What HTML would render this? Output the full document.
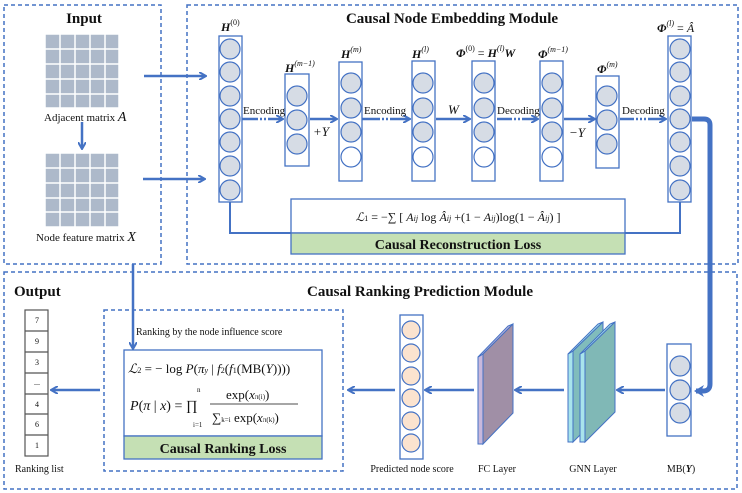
<!DOCTYPE html>
<html><head><meta charset="utf-8"><style>
body{margin:0;background:#fff}
svg{display:block}
text{font-family:"Liberation Serif",serif;fill:#111}
.b{font-weight:bold}
.i{font-style:italic}
</style></head><body>
<svg width="742" height="493" viewBox="0 0 742 493" xmlns="http://www.w3.org/2000/svg">
<defs>
<marker id="ah" markerWidth="8" markerHeight="8" refX="6" refY="4" orient="auto" markerUnits="userSpaceOnUse"><path d="M0,0 L7,4 L0,8" fill="none" stroke="#4472c4" stroke-width="2"/></marker>
<marker id="ah2" markerWidth="12" markerHeight="12" refX="8" refY="6" orient="auto" markerUnits="userSpaceOnUse"><path d="M0,0 L10,6 L0,12 L3,6 Z" fill="#4472c4"/></marker>
</defs>
<g fill="none" stroke="#4472c4" stroke-width="1.5" stroke-dasharray="4,3">
<rect x="4" y="5" width="157" height="259"/>
<rect x="187" y="5" width="551" height="259"/>
<rect x="4" y="272" width="733" height="217"/>
<rect x="104" y="310" width="239" height="161"/>
</g>
<text x="84" y="23" class="b" font-size="15" text-anchor="middle">Input</text>
<text x="452" y="23" class="b" font-size="15" text-anchor="middle">Causal Node Embedding Module</text>
<text x="14" y="296" class="b" font-size="15">Output</text>
<text x="420" y="296" class="b" font-size="15" text-anchor="middle">Causal Ranking Prediction Module</text>
<!-- matrices -->
<g fill="#adb9ca" stroke="#fff" stroke-width="1.5">
<rect x="45" y="34" width="74" height="74"/>
<rect x="45" y="153" width="74" height="74"/>
</g>
<g stroke="#fff" stroke-width="1.5">
<path d="M60,34V108M75,34V108M90,34V108M105,34V108M45,49H119M45,64H119M45,79H119M45,94H119"/>
<path d="M60,153V227M75,153V227M90,153V227M105,153V227M45,168H119M45,183H119M45,198H119M45,212H119"/>
</g>
<text x="44" y="121" font-size="11">Adjacent matrix <tspan class="i" font-size="14">A</tspan></text>
<text x="36" y="241" font-size="11">Node feature matrix <tspan class="i" font-size="14">X</tspan></text>
<g stroke="#4472c4" stroke-width="2.5" fill="none" marker-end="url(#ah)">
<path d="M82,122V148"/>
<path d="M144,76H205"/>
<path d="M143,179H204"/>
<path d="M242,119H282"/>
<path d="M310,119H336"/>
<path d="M362,119H409"/>
<path d="M436,119H469"/>
<path d="M497,119H537"/>
<path d="M564,119H594"/>
<path d="M620,119H665"/>
<path d="M133,264V348"/>
<path d="M100,390H52"/>
<path d="M395,390H349"/>
<path d="M474,390H426"/>
<path d="M564,390H516"/>
<path d="M665,390H618"/>
</g>
<g stroke="#fff" stroke-width="3" stroke-dasharray="2,2">
<path d="M258,119H270M380,119H392M512,119H524M634,119H648"/>
</g>
<path d="M692,119H704Q710,119 710,125V384Q710,391 703,391H696" stroke="#4472c4" stroke-width="5" fill="none" marker-end="url(#ah2)"/>
<path d="M230,202V233H291M680,202V233H625" stroke="#4472c4" stroke-width="2" fill="none"/>
<!-- columns -->
<g fill="#fff" stroke="#4472c4" stroke-width="1.3">
<rect x="219" y="36" width="23" height="166"/>
<rect x="285" y="74" width="24" height="92"/>
<rect x="339" y="62" width="23" height="119"/>
<rect x="412" y="61" width="23" height="120"/>
<rect x="472" y="61" width="23" height="120"/>
<rect x="540" y="61" width="23" height="120"/>
<rect x="596" y="76" width="23" height="92"/>
<rect x="668" y="36" width="23" height="166"/>
<rect x="667" y="344" width="24" height="92"/>
<rect x="400" y="315" width="23" height="144"/>
</g>
<g fill="#d6dce5" stroke="#4472c4" stroke-width="1.2">
<circle cx="230" cy="49" r="10"/><circle cx="230" cy="72" r="10"/><circle cx="230" cy="96" r="10"/><circle cx="230" cy="119" r="10"/><circle cx="230" cy="142" r="10"/><circle cx="230" cy="166" r="10"/><circle cx="230" cy="190" r="10"/>
<circle cx="680" cy="49" r="10"/><circle cx="680" cy="72" r="10"/><circle cx="680" cy="96" r="10"/><circle cx="680" cy="119" r="10"/><circle cx="680" cy="142" r="10"/><circle cx="680" cy="166" r="10"/><circle cx="680" cy="190" r="10"/>
<circle cx="297" cy="96" r="10"/><circle cx="297" cy="120" r="10"/><circle cx="297" cy="144" r="10"/>
<circle cx="607" cy="96" r="10"/><circle cx="607" cy="120" r="10"/><circle cx="607" cy="144" r="10"/>
<circle cx="680" cy="366" r="10"/><circle cx="680" cy="390" r="10"/><circle cx="680" cy="413" r="10"/>
<circle cx="351" cy="83" r="10"/><circle cx="351" cy="108" r="10"/><circle cx="351" cy="132" r="10"/>
<circle cx="423" cy="83" r="10"/><circle cx="423" cy="108" r="10"/><circle cx="423" cy="132" r="10"/>
<circle cx="484" cy="83" r="10"/><circle cx="484" cy="108" r="10"/><circle cx="484" cy="132" r="10"/>
<circle cx="552" cy="83" r="10"/><circle cx="552" cy="108" r="10"/><circle cx="552" cy="132" r="10"/>
</g>
<g fill="#fff" stroke="#4472c4" stroke-width="1.2">
<circle cx="351" cy="157" r="10"/><circle cx="423" cy="157" r="10"/><circle cx="484" cy="157" r="10"/><circle cx="552" cy="157" r="10"/>
</g>
<g fill="#fbe3cf" stroke="#4472c4" stroke-width="1.2">
<circle cx="411" cy="330" r="9"/><circle cx="411" cy="353" r="9"/><circle cx="411" cy="376" r="9"/><circle cx="411" cy="398" r="9"/><circle cx="411" cy="421" r="9"/><circle cx="411" cy="443" r="9"/>
</g>
<!-- labels -->
<g font-size="12">
<text x="221" y="31" class="b i">H<tspan font-size="8" dy="-6" font-weight="normal" font-style="normal">(0)</tspan></text>
<text x="285" y="72" class="b i">H<tspan font-size="8" dy="-6" font-weight="normal">(m−1)</tspan></text>
<text x="341" y="58" class="b i">H<tspan font-size="8" dy="-6" font-weight="normal">(m)</tspan></text>
<text x="412" y="58" class="b i">H<tspan font-size="8" dy="-6" font-weight="normal">(l)</tspan></text>
<text x="456" y="57" class="b i">Φ<tspan font-size="8" dy="-6" font-weight="normal" font-style="normal">(0)</tspan><tspan dy="6" font-weight="normal" font-style="normal"> = </tspan>H<tspan font-size="8" dy="-6" font-weight="normal">(l)</tspan><tspan dy="6">W</tspan></text>
<text x="538" y="58" class="b i">Φ<tspan font-size="8" dy="-6" font-weight="normal">(m−1)</tspan></text>
<text x="597" y="73" class="b i">Φ<tspan font-size="8" dy="-6" font-weight="normal">(m)</tspan></text>
<text x="657" y="32" class="b i">Φ<tspan font-size="8" dy="-6" font-weight="normal">(l)</tspan><tspan dy="6" font-weight="normal" font-style="normal"> = </tspan><tspan font-weight="normal">Â</tspan></text>
</g>
<g font-size="11">
<text x="243" y="114">Encoding</text>
<text x="364" y="114">Encoding</text>
<text x="497" y="114">Decoding</text>
<text x="622" y="114">Decoding</text>
</g>
<text x="313" y="136" font-size="13" class="i">+Y</text>
<text x="448" y="114" font-size="13" class="i">W</text>
<text x="569" y="137" font-size="13" class="i">−Y</text>
<!-- loss 1 -->
<rect x="291" y="199" width="334" height="34" fill="#fff" stroke="#4472c4" stroke-width="1.3"/>
<rect x="291" y="233" width="334" height="21" fill="#c5e0b4" stroke="#4472c4" stroke-width="1.3"/>
<text x="458" y="221" font-size="12" text-anchor="middle"><tspan class="i">ℒ</tspan><tspan font-size="8">1</tspan> = −∑ [ <tspan class="i">A<tspan font-size="8">ij</tspan></tspan> log <tspan class="i">Â<tspan font-size="8">ij</tspan></tspan> +(1 − <tspan class="i">A<tspan font-size="8">ij</tspan></tspan>)log(1 − <tspan class="i">Â<tspan font-size="8">ij</tspan></tspan>) ]</text>
<text x="458" y="249" font-size="14" class="b" text-anchor="middle">Causal Reconstruction Loss</text>
<!-- ranking list -->
<g fill="#fff" stroke="#555" stroke-width="1.2">
<rect x="25" y="310" width="23" height="146"/>
<path d="M25,331H48M25,352H48M25,373H48M25,394H48M25,414H48M25,435H48"/>
</g>
<g font-size="8" text-anchor="middle">
<text x="37" y="323">7</text><text x="37" y="344">9</text><text x="37" y="365">3</text><text x="37" y="385">...</text><text x="37" y="407">4</text><text x="37" y="427">6</text><text x="37" y="448">1</text>
</g>
<text x="15" y="472" font-size="10">Ranking list</text>
<text x="136" y="335" font-size="10">Ranking by the node influence score</text>
<rect x="124" y="350" width="198" height="86" fill="#fff" stroke="#4472c4" stroke-width="1.3"/>
<rect x="124" y="436" width="198" height="23" fill="#c5e0b4" stroke="#4472c4" stroke-width="1.3"/>
<text x="128" y="373" font-size="13"><tspan class="i">ℒ</tspan><tspan font-size="8">2</tspan> = − log <tspan class="i">P</tspan>(<tspan class="i">π<tspan font-size="8">y</tspan></tspan> | <tspan class="i">f</tspan><tspan font-size="8">2</tspan>(<tspan class="i">f</tspan><tspan font-size="8">1</tspan>(MB(<tspan class="i">Y</tspan>))))</text>
<text x="130" y="410" font-size="14"><tspan class="i">P</tspan>(<tspan class="i">π</tspan> | <tspan class="i">x</tspan>) = ∏</text>
<text x="193" y="427" font-size="7">i=1</text><text x="197" y="392" font-size="7">n</text>
<line x1="210" y1="404" x2="298" y2="404" stroke="#111" stroke-width="0.8"/>
<text x="226" y="399" font-size="13">exp(<tspan class="i">x</tspan><tspan font-size="7">π(i)</tspan>)</text>
<text x="212" y="422" font-size="13">∑<tspan font-size="7">k=i</tspan> exp(<tspan class="i">x</tspan><tspan font-size="7">π(k)</tspan>)</text>
<text x="223" y="453" font-size="14" class="b" text-anchor="middle">Causal Ranking Loss</text>
<!-- FC -->
<polygon points="478,357 483,354 483,444 478,444" fill="#c8b8dc" stroke="#4472c4" stroke-width="1"/>
<polygon points="478,357 508,326 513,324 483,354" fill="#c8b8dc" stroke="#4472c4" stroke-width="1"/>
<polygon points="483,354 513,324 513,413 483,444" fill="#a08fa6" stroke="#4472c4" stroke-width="1"/>
<!-- GNN -->
<polygon points="568,354 573,351 573,442 568,442" fill="#a8e4ec" stroke="#4472c4" stroke-width="1"/>
<polygon points="568,354 598,324 603,322 573,351" fill="#a8e4ec" stroke="#4472c4" stroke-width="1"/>
<polygon points="573,351 603,322 603,412 573,442" fill="#80bcbc" stroke="#4472c4" stroke-width="1"/>
<polygon points="580,354 585,351 585,442 580,442" fill="#a8e4ec" stroke="#4472c4" stroke-width="1"/>
<polygon points="580,354 610,324 615,322 585,351" fill="#a8e4ec" stroke="#4472c4" stroke-width="1"/>
<polygon points="585,351 615,322 615,412 585,442" fill="#80b8b6" stroke="#4472c4" stroke-width="1"/>
<g font-size="10" text-anchor="middle">
<text x="412" y="472">Predicted node score</text>
<text x="497" y="472">FC Layer</text>
<text x="593" y="472">GNN Layer</text>
<text x="681" y="472">MB(<tspan class="i b">Y</tspan>)</text>
</g>
</svg>
</body></html>
